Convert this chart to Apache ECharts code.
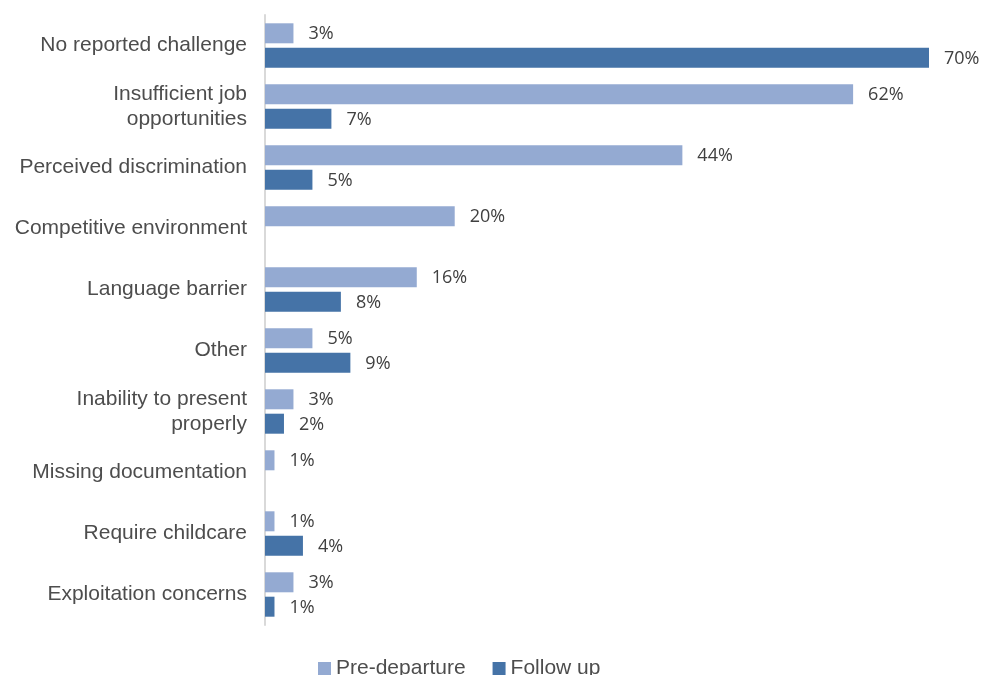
<!DOCTYPE html>
<html><head><meta charset="utf-8">
<script src="https://cdn.jsdelivr.net/npm/echarts@6/dist/echarts.min.js"></script>
<style>html,body{margin:0;padding:0;background:#fff}#c{width:984px;height:675px}</style>
</head><body><div id="c"></div>
<script>
const categories = ["No reported challenge","Insufficient job\nopportunities","Perceived discrimination","Competitive environment","Language barrier","Other","Inability to present\nproperly","Missing documentation","Require childcare","Exploitation concerns"];
const preDeparture = [3,62,44,20,16,5,3,1,1,3];
const followUp = [70,7,5,null,8,9,2,null,4,1];
const seriesNames = ["Pre-departure","Follow up"];

const chart = echarts.init(document.getElementById('c'));
const labelCfg = {show:true, position:'right', distance:15, offset:[0,1], formatter:p=>p.value==null?'':p.value+'%', color:'#404040', fontSize:18, fontFamily:'"Open Sans", sans-serif'};
chart.setOption({
  animation:false,
  grid:{left:265, right:55, top:15, bottom:50},
  legend:{top:653, left:313, itemWidth:13, itemHeight:13, itemGap:27, itemTextGap:2, icon:'rect',
    textStyle:{color:'#4d4d4d', fontSize:21, fontFamily:'"Liberation Sans", Arial, sans-serif'}, data:seriesNames},
  xAxis:{type:'value', min:0, max:70, show:false},
  yAxis:{type:'category', data:categories, inverse:true,
    axisLine:{show:true, lineStyle:{color:'#d9d9d9', width:2}}, axisTick:{show:false},
    axisLabel:{color:'#4d4d4d', fontSize:21, margin:18, lineHeight:25, padding:[4,0,0,0], fontFamily:'"Liberation Sans", Arial, sans-serif', align:'right'}},
  series:[
    {name:seriesNames[0], type:'bar', data:preDeparture, barWidth:20, barGap:'22%', itemStyle:{color:'#94aad2'}, label:labelCfg},
    {name:seriesNames[1], type:'bar', data:followUp, barWidth:20, itemStyle:{color:'#4573a7'}, label:labelCfg}
  ]
});
</script></body></html>
